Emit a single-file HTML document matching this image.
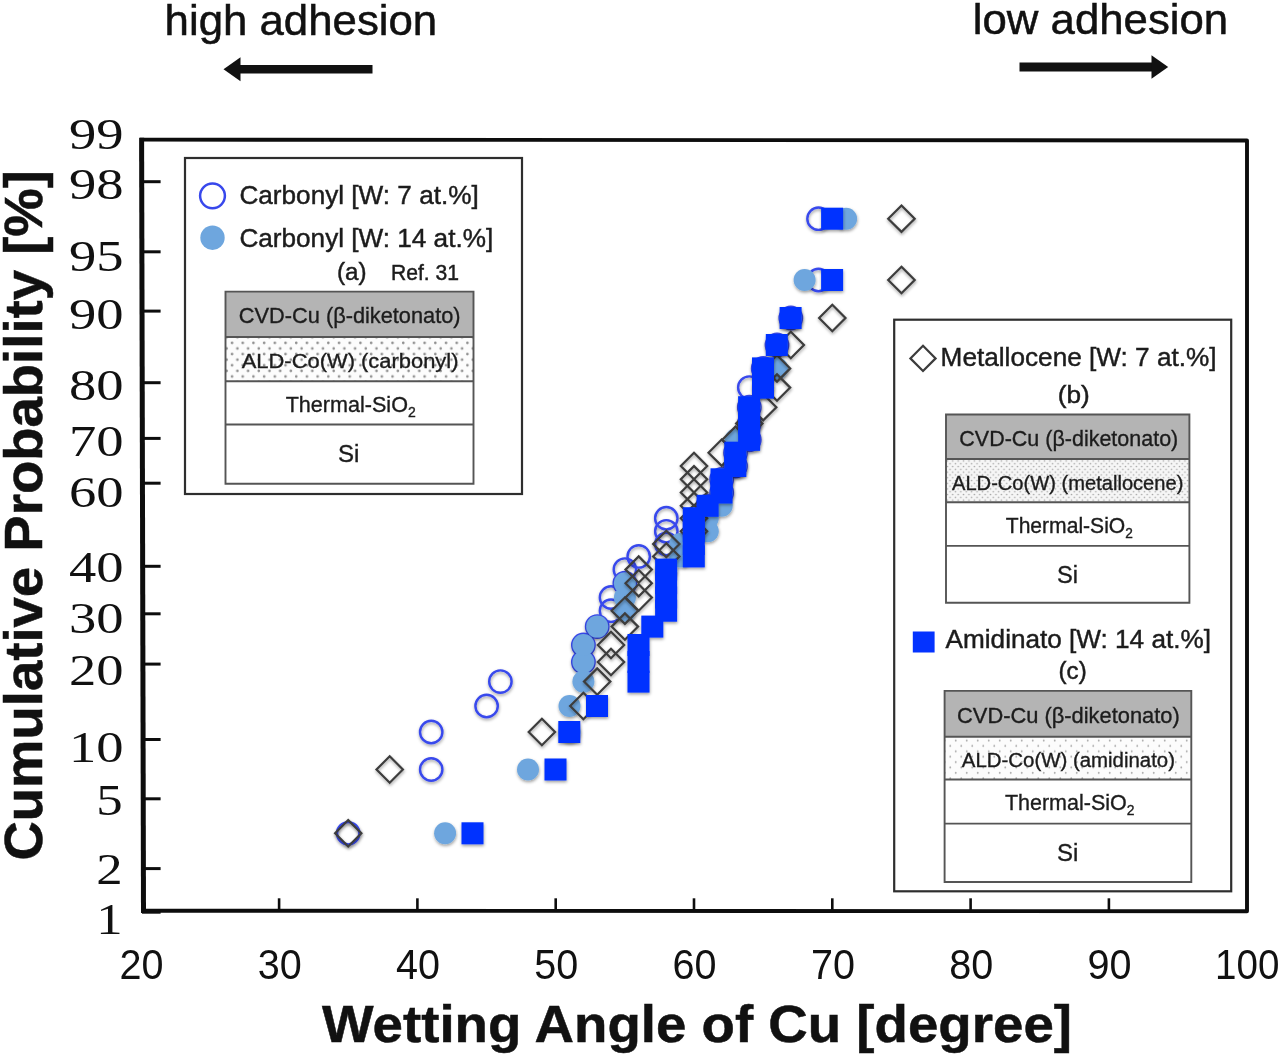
<!DOCTYPE html>
<html lang="en"><head><meta charset="utf-8"><title>Wetting angle of Cu - cumulative probability</title>
<style>
html,body{margin:0;padding:0;background:#fff}
body{width:1280px;height:1057px;overflow:hidden}
svg{display:block;filter:blur(0.7px)}
</style></head><body>
<svg width="1280" height="1057" viewBox="0 0 1280 1057">
<rect width="1280" height="1057" fill="#fff"/>
<defs>
<filter id="sh" x="-5%" y="-5%" width="110%" height="110%"><feDropShadow dx="0.4" dy="1.7" stdDeviation="1.4" flood-color="#000" flood-opacity="0.38"/></filter>
<pattern id="dotA" width="10.7" height="11.2" patternUnits="userSpaceOnUse" x="224" y="334.5"><rect width="10.7" height="11.2" fill="#fcfcfc"/><circle cx="2.7" cy="2.8" r="1.3" fill="#8f8f8f"/><circle cx="8.05" cy="8.4" r="1.3" fill="#8f8f8f"/></pattern>
<pattern id="dotB" width="5.4" height="5.6" patternUnits="userSpaceOnUse" x="946" y="459.5"><rect width="5.4" height="5.6" fill="#f6f6f6"/><circle cx="1.35" cy="1.4" r="0.8" fill="#a6a6a6"/><circle cx="4.05" cy="4.2" r="0.8" fill="#a6a6a6"/></pattern>
<pattern id="dotC" width="11" height="10.8" patternUnits="userSpaceOnUse" x="942" y="737.8"><rect width="11" height="10.8" fill="#fcfcfc"/><circle cx="2.75" cy="2.7" r="0.95" fill="#a8a8a8"/><circle cx="8.25" cy="8.1" r="0.95" fill="#a8a8a8"/></pattern>
</defs>
<g id="blurwrap">
<path d="M140 139.6L1247 140.5V911.2L142 910.7" fill="none" stroke="#0d0d0d" stroke-width="3.9" stroke-linejoin="round"/>
<path d="M141.6 137.7L143.5 912.9" stroke="#0d0d0d" stroke-width="5"/>
<path d="M142 181.7H160.6" stroke="#0d0d0d" stroke-width="3"/>
<path d="M142 251.8H160.6" stroke="#0d0d0d" stroke-width="3"/>
<path d="M142 311.1H160.6" stroke="#0d0d0d" stroke-width="3"/>
<path d="M142 382.7H160.6" stroke="#0d0d0d" stroke-width="3"/>
<path d="M142 438.4H160.6" stroke="#0d0d0d" stroke-width="3"/>
<path d="M142 483.2H160.6" stroke="#0d0d0d" stroke-width="3"/>
<path d="M142 566.3H160.6" stroke="#0d0d0d" stroke-width="3"/>
<path d="M142 613.8H160.6" stroke="#0d0d0d" stroke-width="3"/>
<path d="M142 664.1H160.6" stroke="#0d0d0d" stroke-width="3"/>
<path d="M142 739.5H160.6" stroke="#0d0d0d" stroke-width="3"/>
<path d="M142 798.8H160.6" stroke="#0d0d0d" stroke-width="3"/>
<path d="M142 868.6H160.6" stroke="#0d0d0d" stroke-width="3"/>
<path d="M142 911.4H160.6" stroke="#0d0d0d" stroke-width="4.6"/>
<path d="M279.1 910V898.3" stroke="#0d0d0d" stroke-width="2.6"/>
<path d="M417.4 910V898.3" stroke="#0d0d0d" stroke-width="2.6"/>
<path d="M555.7 910V898.3" stroke="#0d0d0d" stroke-width="2.6"/>
<path d="M694.0 910V898.3" stroke="#0d0d0d" stroke-width="2.6"/>
<path d="M832.3 910V898.3" stroke="#0d0d0d" stroke-width="2.6"/>
<path d="M970.6 910V898.3" stroke="#0d0d0d" stroke-width="2.6"/>
<path d="M1108.9 910V898.3" stroke="#0d0d0d" stroke-width="2.6"/>
<text x="69.0" y="148.7" font-family="Liberation Serif,serif" font-size="44.3" textLength="54.6" lengthAdjust="spacingAndGlyphs" fill="#111">99</text>
<text x="69.0" y="198.9" font-family="Liberation Serif,serif" font-size="44.3" textLength="54.6" lengthAdjust="spacingAndGlyphs" fill="#111">98</text>
<text x="69.0" y="270.9" font-family="Liberation Serif,serif" font-size="44.3" textLength="54.6" lengthAdjust="spacingAndGlyphs" fill="#111">95</text>
<text x="69.0" y="328.7" font-family="Liberation Serif,serif" font-size="44.3" textLength="54.6" lengthAdjust="spacingAndGlyphs" fill="#111">90</text>
<text x="69.0" y="400.2" font-family="Liberation Serif,serif" font-size="44.3" textLength="54.6" lengthAdjust="spacingAndGlyphs" fill="#111">80</text>
<text x="69.0" y="456.4" font-family="Liberation Serif,serif" font-size="44.3" textLength="54.6" lengthAdjust="spacingAndGlyphs" fill="#111">70</text>
<text x="69.0" y="506.9" font-family="Liberation Serif,serif" font-size="44.3" textLength="54.6" lengthAdjust="spacingAndGlyphs" fill="#111">60</text>
<text x="69.0" y="582.2" font-family="Liberation Serif,serif" font-size="44.3" textLength="54.6" lengthAdjust="spacingAndGlyphs" fill="#111">40</text>
<text x="69.0" y="632.7" font-family="Liberation Serif,serif" font-size="44.3" textLength="54.6" lengthAdjust="spacingAndGlyphs" fill="#111">30</text>
<text x="69.0" y="684.6" font-family="Liberation Serif,serif" font-size="44.3" textLength="54.6" lengthAdjust="spacingAndGlyphs" fill="#111">20</text>
<text x="69.0" y="762.0" font-family="Liberation Serif,serif" font-size="44.3" textLength="54.6" lengthAdjust="spacingAndGlyphs" fill="#111">10</text>
<text x="96.2" y="814.7" font-family="Liberation Serif,serif" font-size="44.3" textLength="26.4" lengthAdjust="spacingAndGlyphs" fill="#111">5</text>
<text x="96.2" y="883.9" font-family="Liberation Serif,serif" font-size="44.3" textLength="26.4" lengthAdjust="spacingAndGlyphs" fill="#111">2</text>
<text x="96.2" y="934.3" font-family="Liberation Serif,serif" font-size="44.3" textLength="26.4" lengthAdjust="spacingAndGlyphs" fill="#111">1</text>
<text x="119.4" y="979.3" font-family="Liberation Sans,sans-serif" font-size="43" textLength="44.0" lengthAdjust="spacingAndGlyphs" fill="#111">20</text>
<text x="257.7" y="979.3" font-family="Liberation Sans,sans-serif" font-size="43" textLength="44.0" lengthAdjust="spacingAndGlyphs" fill="#111">30</text>
<text x="396.0" y="979.3" font-family="Liberation Sans,sans-serif" font-size="43" textLength="44.0" lengthAdjust="spacingAndGlyphs" fill="#111">40</text>
<text x="534.3" y="979.3" font-family="Liberation Sans,sans-serif" font-size="43" textLength="44.0" lengthAdjust="spacingAndGlyphs" fill="#111">50</text>
<text x="672.6" y="979.3" font-family="Liberation Sans,sans-serif" font-size="43" textLength="44.0" lengthAdjust="spacingAndGlyphs" fill="#111">60</text>
<text x="810.9" y="979.3" font-family="Liberation Sans,sans-serif" font-size="43" textLength="44.0" lengthAdjust="spacingAndGlyphs" fill="#111">70</text>
<text x="949.2" y="979.3" font-family="Liberation Sans,sans-serif" font-size="43" textLength="44.0" lengthAdjust="spacingAndGlyphs" fill="#111">80</text>
<text x="1087.5" y="979.3" font-family="Liberation Sans,sans-serif" font-size="43" textLength="44.0" lengthAdjust="spacingAndGlyphs" fill="#111">90</text>
<text x="1215.1" y="979.3" font-family="Liberation Sans,sans-serif" font-size="43" textLength="64.4" lengthAdjust="spacingAndGlyphs" fill="#111">100</text>
<rect x="185" y="158" width="337" height="336" fill="#fff" stroke="#2e2e2e" stroke-width="2.2"/>
<circle cx="212.5" cy="195.8" r="12.4" fill="none" stroke="#3848ec" stroke-width="2.5"/>
<circle cx="212.5" cy="237.7" r="12.2" fill="#6ea6de"/>
<text x="239.4" y="204.4" font-size="25.8" textLength="239.4" font-family="Liberation Sans,sans-serif" fill="#1c1c1c" stroke="#1c1c1c" stroke-width="0.45" lengthAdjust="spacingAndGlyphs">Carbonyl [W: 7 at.%]</text>
<text x="239.4" y="247.2" font-size="25.8" textLength="253.8" font-family="Liberation Sans,sans-serif" fill="#1c1c1c" stroke="#1c1c1c" stroke-width="0.45" lengthAdjust="spacingAndGlyphs">Carbonyl [W: 14 at.%]</text>
<text x="337" y="280.2" font-size="23.5" textLength="29.6" font-family="Liberation Sans,sans-serif" fill="#1c1c1c" stroke="#1c1c1c" stroke-width="0.45" lengthAdjust="spacingAndGlyphs">(a)</text>
<text x="391" y="280" font-size="21.4" textLength="68" font-family="Liberation Sans,sans-serif" fill="#1c1c1c" stroke="#1c1c1c" stroke-width="0.45" lengthAdjust="spacingAndGlyphs">Ref. 31</text>
<rect x="225.5" y="291.6" width="248.0" height="45.4" fill="#b4b4b4"/>
<rect x="225.5" y="337.0" width="248.0" height="44.2" fill="url(#dotA)"/>
<path d="M225.5 291.6H473.5V483.8H225.5ZM225.5 337.0H473.5M225.5 381.2H473.5M225.5 424.5H473.5" fill="none" stroke="#555" stroke-width="1.9"/>
<text x="349.7" y="323.2" font-size="22.4" textLength="221.7" font-family="Liberation Sans,sans-serif" fill="#1c1c1c" stroke="#1c1c1c" stroke-width="0.35" text-anchor="middle" lengthAdjust="spacingAndGlyphs">CVD-Cu (β-diketonato)</text>
<text x="350.1" y="367.6" font-size="21.0" textLength="216.8" font-family="Liberation Sans,sans-serif" fill="#1c1c1c" stroke="#1c1c1c" stroke-width="0.35" text-anchor="middle" lengthAdjust="spacingAndGlyphs">ALD-Co(W) (carbonyl)</text>
<text x="350.7" y="411.5" font-size="21.6" textLength="130.1" font-family="Liberation Sans,sans-serif" fill="#1c1c1c" stroke="#1c1c1c" stroke-width="0.35" text-anchor="middle" lengthAdjust="spacingAndGlyphs">Thermal-SiO<tspan font-size="14" dy="5">2</tspan></text>
<text x="348.7" y="462.0" font-size="23" textLength="21.4" font-family="Liberation Sans,sans-serif" fill="#1c1c1c" stroke="#1c1c1c" stroke-width="0.35" text-anchor="middle" lengthAdjust="spacingAndGlyphs">Si</text>
<rect x="894.2" y="319.7" width="337" height="571.6" fill="#fff" stroke="#2e2e2e" stroke-width="2.2"/>
<path d="M923 345.8L935.6 358.4L923 371.0L910.4 358.4Z" fill="none" stroke="#3c3c3c" stroke-width="2.2"/>
<text x="940.6" y="366" font-size="25.8" textLength="276" font-family="Liberation Sans,sans-serif" fill="#1c1c1c" stroke="#1c1c1c" stroke-width="0.45" lengthAdjust="spacingAndGlyphs">Metallocene [W: 7 at.%]</text>
<text x="1057.8" y="403" font-size="23.5" textLength="32" font-family="Liberation Sans,sans-serif" fill="#1c1c1c" stroke="#1c1c1c" stroke-width="0.45" lengthAdjust="spacingAndGlyphs">(b)</text>
<rect x="946.0" y="414.5" width="243.4" height="44.5" fill="#b4b4b4"/>
<rect x="946.0" y="459.0" width="243.4" height="43.3" fill="url(#dotB)"/>
<path d="M946.0 414.5H1189.4V602.8H946.0ZM946.0 459.0H1189.4M946.0 502.3H1189.4M946.0 545.9H1189.4" fill="none" stroke="#555" stroke-width="1.9"/>
<text x="1068.8" y="446.1" font-size="22.4" textLength="218.9" font-family="Liberation Sans,sans-serif" fill="#1c1c1c" stroke="#1c1c1c" stroke-width="0.35" text-anchor="middle" lengthAdjust="spacingAndGlyphs">CVD-Cu (β-diketonato)</text>
<text x="1067.7" y="489.6" font-size="19.8" textLength="231.4" font-family="Liberation Sans,sans-serif" fill="#1c1c1c" stroke="#1c1c1c" stroke-width="0.35" text-anchor="middle" lengthAdjust="spacingAndGlyphs">ALD-Co(W) (metallocene)</text>
<text x="1069.3" y="532.6" font-size="21.6" textLength="127.1" font-family="Liberation Sans,sans-serif" fill="#1c1c1c" stroke="#1c1c1c" stroke-width="0.35" text-anchor="middle" lengthAdjust="spacingAndGlyphs">Thermal-SiO<tspan font-size="14" dy="5">2</tspan></text>
<text x="1067.5" y="583.4" font-size="23" textLength="21.0" font-family="Liberation Sans,sans-serif" fill="#1c1c1c" stroke="#1c1c1c" stroke-width="0.35" text-anchor="middle" lengthAdjust="spacingAndGlyphs">Si</text>
<rect x="912.8" y="631.5" width="21.8" height="21" fill="#0433ff"/>
<text x="945.6" y="647.8" font-size="25.8" textLength="265.4" font-family="Liberation Sans,sans-serif" fill="#1c1c1c" stroke="#1c1c1c" stroke-width="0.45" lengthAdjust="spacingAndGlyphs">Amidinato [W: 14 at.%]</text>
<text x="1058.6" y="679" font-size="23.5" textLength="28.1" font-family="Liberation Sans,sans-serif" fill="#1c1c1c" stroke="#1c1c1c" stroke-width="0.45" lengthAdjust="spacingAndGlyphs">(c)</text>
<rect x="944.6" y="690.9" width="246.7" height="45.8" fill="#b4b4b4"/>
<rect x="944.6" y="736.7" width="246.7" height="42.8" fill="url(#dotC)"/>
<path d="M944.6 690.9H1191.3V882.0H944.6ZM944.6 736.7H1191.3M944.6 779.5H1191.3M944.6 823.6H1191.3" fill="none" stroke="#555" stroke-width="1.9"/>
<text x="1068.4" y="722.5" font-size="22.4" textLength="222.7" font-family="Liberation Sans,sans-serif" fill="#1c1c1c" stroke="#1c1c1c" stroke-width="0.35" text-anchor="middle" lengthAdjust="spacingAndGlyphs">CVD-Cu (β-diketonato)</text>
<text x="1068.4" y="767.3" font-size="20.0" textLength="213.2" font-family="Liberation Sans,sans-serif" fill="#1c1c1c" stroke="#1c1c1c" stroke-width="0.35" text-anchor="middle" lengthAdjust="spacingAndGlyphs">ALD-Co(W) (amidinato)</text>
<text x="1069.7" y="809.8" font-size="21.6" textLength="129.6" font-family="Liberation Sans,sans-serif" fill="#1c1c1c" stroke="#1c1c1c" stroke-width="0.35" text-anchor="middle" lengthAdjust="spacingAndGlyphs">Thermal-SiO<tspan font-size="14" dy="5">2</tspan></text>
<text x="1067.7" y="861.1" font-size="23" textLength="21.3" font-family="Liberation Sans,sans-serif" fill="#1c1c1c" stroke="#1c1c1c" stroke-width="0.35" text-anchor="middle" lengthAdjust="spacingAndGlyphs">Si</text>
<g id="open" fill="none" stroke="#3848ec" stroke-width="2.4" filter="url(#sh)">
<circle cx="348.2" cy="833.3" r="11.2"/>
<circle cx="431.2" cy="769.5" r="11.2"/>
<circle cx="431.2" cy="732.0" r="11.2"/>
<circle cx="486.6" cy="706.0" r="11.2"/>
<circle cx="500.4" cy="681.6" r="11.2"/>
<circle cx="583.4" cy="662.0" r="11.2"/>
<circle cx="583.4" cy="645.0" r="11.2"/>
<circle cx="597.2" cy="626.6" r="11.2"/>
<circle cx="611.0" cy="610.7" r="11.2"/>
<circle cx="611.0" cy="597.5" r="11.2"/>
<circle cx="624.9" cy="583.2" r="11.2"/>
<circle cx="624.9" cy="569.6" r="11.2"/>
<circle cx="638.7" cy="556.4" r="11.2"/>
<circle cx="666.3" cy="544.0" r="11.2"/>
<circle cx="666.3" cy="531.3" r="11.2"/>
<circle cx="666.3" cy="518.2" r="11.2"/>
<circle cx="707.8" cy="505.8" r="11.2"/>
<circle cx="721.7" cy="492.5" r="11.2"/>
<circle cx="721.7" cy="479.3" r="11.2"/>
<circle cx="735.5" cy="466.0" r="11.2"/>
<circle cx="735.5" cy="452.7" r="11.2"/>
<circle cx="749.3" cy="439.8" r="11.2"/>
<circle cx="749.3" cy="423.6" r="11.2"/>
<circle cx="749.3" cy="407.2" r="11.2"/>
<circle cx="749.3" cy="387.6" r="11.2"/>
<circle cx="763.2" cy="368.4" r="11.2"/>
<circle cx="777.0" cy="345.0" r="11.2"/>
<circle cx="790.8" cy="318.0" r="11.2"/>
<circle cx="818.5" cy="280.0" r="11.2"/>
<circle cx="818.5" cy="218.7" r="11.2"/>
</g>
<g id="lb" fill="#6ea6de" filter="url(#sh)">
<circle cx="445.1" cy="833.3" r="11"/>
<circle cx="528.0" cy="769.5" r="11"/>
<circle cx="569.5" cy="732.0" r="11"/>
<circle cx="569.5" cy="706.0" r="11"/>
<circle cx="583.4" cy="681.6" r="11"/>
<circle cx="583.4" cy="662.0" r="11"/>
<circle cx="583.4" cy="645.0" r="11"/>
<circle cx="597.2" cy="626.6" r="11"/>
<circle cx="624.9" cy="610.7" r="11"/>
<circle cx="624.9" cy="597.5" r="11"/>
<circle cx="624.9" cy="583.2" r="11"/>
<circle cx="666.3" cy="569.6" r="11"/>
<circle cx="680.2" cy="556.4" r="11"/>
<circle cx="680.2" cy="544.0" r="11"/>
<circle cx="707.8" cy="531.3" r="11"/>
<circle cx="707.8" cy="518.2" r="11"/>
<circle cx="721.7" cy="505.8" r="11"/>
<circle cx="721.7" cy="492.5" r="11"/>
<circle cx="721.7" cy="479.3" r="11"/>
<circle cx="735.5" cy="466.0" r="11"/>
<circle cx="735.5" cy="452.7" r="11"/>
<circle cx="735.5" cy="439.8" r="11"/>
<circle cx="749.3" cy="423.6" r="11"/>
<circle cx="749.3" cy="407.2" r="11"/>
<circle cx="763.2" cy="387.6" r="11"/>
<circle cx="777.0" cy="368.4" r="11"/>
<circle cx="777.0" cy="345.0" r="11"/>
<circle cx="790.8" cy="318.0" r="11"/>
<circle cx="804.6" cy="280.0" r="11"/>
<circle cx="846.1" cy="218.7" r="11"/>
</g>
<g id="dia" fill="none" stroke="#3c3c3c" stroke-width="2.2" stroke-linejoin="miter" filter="url(#sh)">
<path d="M348.2 820.1L361.4 833.3L348.2 846.5L335.1 833.3Z"/>
<path d="M389.7 756.3L402.9 769.5L389.7 782.7L376.5 769.5Z"/>
<path d="M541.9 718.8L555.1 732.0L541.9 745.2L528.7 732.0Z"/>
<path d="M583.4 692.8L596.6 706.0L583.4 719.2L570.2 706.0Z"/>
<path d="M597.2 668.4L610.4 681.6L597.2 694.8L584.0 681.6Z"/>
<path d="M611.0 648.8L624.2 662.0L611.0 675.2L597.8 662.0Z"/>
<path d="M611.0 631.8L624.2 645.0L611.0 658.2L597.8 645.0Z"/>
<path d="M624.9 613.4L638.1 626.6L624.9 639.8L611.6 626.6Z"/>
<path d="M624.9 597.5L638.1 610.7L624.9 623.9L611.6 610.7Z"/>
<path d="M638.7 584.3L651.9 597.5L638.7 610.7L625.5 597.5Z"/>
<path d="M638.7 570.0L651.9 583.2L638.7 596.4L625.5 583.2Z"/>
<path d="M638.7 556.4L651.9 569.6L638.7 582.8L625.5 569.6Z"/>
<path d="M666.3 543.2L679.5 556.4L666.3 569.6L653.1 556.4Z"/>
<path d="M666.3 530.8L679.5 544.0L666.3 557.2L653.1 544.0Z"/>
<path d="M694.0 518.1L707.2 531.3L694.0 544.5L680.8 531.3Z"/>
<path d="M694.0 505.0L707.2 518.2L694.0 531.4L680.8 518.2Z"/>
<path d="M694.0 492.6L707.2 505.8L694.0 519.0L680.8 505.8Z"/>
<path d="M694.0 479.3L707.2 492.5L694.0 505.7L680.8 492.5Z"/>
<path d="M694.0 466.1L707.2 479.3L694.0 492.5L680.8 479.3Z"/>
<path d="M694.0 452.8L707.2 466.0L694.0 479.2L680.8 466.0Z"/>
<path d="M721.7 439.5L734.9 452.7L721.7 465.9L708.5 452.7Z"/>
<path d="M735.5 426.6L748.7 439.8L735.5 453.0L722.3 439.8Z"/>
<path d="M749.3 410.4L762.5 423.6L749.3 436.8L736.1 423.6Z"/>
<path d="M763.2 394.0L776.4 407.2L763.2 420.4L750.0 407.2Z"/>
<path d="M777.0 374.4L790.2 387.6L777.0 400.8L763.8 387.6Z"/>
<path d="M777.0 355.2L790.2 368.4L777.0 381.6L763.8 368.4Z"/>
<path d="M790.8 331.8L804.0 345.0L790.8 358.2L777.6 345.0Z"/>
<path d="M832.3 304.8L845.5 318.0L832.3 331.2L819.1 318.0Z"/>
<path d="M901.5 266.8L914.7 280.0L901.5 293.2L888.2 280.0Z"/>
<path d="M901.5 205.5L914.7 218.7L901.5 231.9L888.2 218.7Z"/>
</g>
<g id="sq" fill="#0433ff" filter="url(#sh)">
<rect x="461.5" y="822.3" width="22" height="22"/>
<rect x="544.5" y="758.5" width="22" height="22"/>
<rect x="558.3" y="721.0" width="22" height="22"/>
<rect x="586.0" y="695.0" width="22" height="22"/>
<rect x="627.5" y="670.6" width="22" height="22"/>
<rect x="627.5" y="651.0" width="22" height="22"/>
<rect x="627.5" y="634.0" width="22" height="22"/>
<rect x="641.3" y="615.6" width="22" height="22"/>
<rect x="655.1" y="599.7" width="22" height="22"/>
<rect x="655.1" y="586.5" width="22" height="22"/>
<rect x="655.1" y="572.2" width="22" height="22"/>
<rect x="655.1" y="558.6" width="22" height="22"/>
<rect x="682.8" y="545.4" width="22" height="22"/>
<rect x="682.8" y="533.0" width="22" height="22"/>
<rect x="682.8" y="520.3" width="22" height="22"/>
<rect x="682.8" y="507.2" width="22" height="22"/>
<rect x="696.6" y="494.8" width="22" height="22"/>
<rect x="710.5" y="481.5" width="22" height="22"/>
<rect x="710.5" y="468.3" width="22" height="22"/>
<rect x="724.3" y="455.0" width="22" height="22"/>
<rect x="724.3" y="441.7" width="22" height="22"/>
<rect x="738.1" y="428.8" width="22" height="22"/>
<rect x="738.1" y="412.6" width="22" height="22"/>
<rect x="738.1" y="396.2" width="22" height="22"/>
<rect x="752.0" y="376.6" width="22" height="22"/>
<rect x="752.0" y="357.4" width="22" height="22"/>
<rect x="765.8" y="334.0" width="22" height="22"/>
<rect x="779.6" y="307.0" width="22" height="22"/>
<rect x="821.1" y="269.0" width="22" height="22"/>
<rect x="821.1" y="207.7" width="22" height="22"/>
</g>
<text x="164.6" y="34.6" font-family="Liberation Sans,sans-serif" font-size="41.6" textLength="272.6" lengthAdjust="spacingAndGlyphs" fill="#111" stroke="#111" stroke-width="0.5">high adhesion</text>
<text x="972.8" y="34.1" font-family="Liberation Sans,sans-serif" font-size="41.6" textLength="255.4" lengthAdjust="spacingAndGlyphs" fill="#111" stroke="#111" stroke-width="0.5">low adhesion</text>
<path d="M372.5 69.3H238" stroke="#111" stroke-width="8.4"/><path d="M223.5 69.3L240.5 57.3V81.3Z" fill="#111"/>
<path d="M1019.5 67H1154" stroke="#111" stroke-width="8.8"/><path d="M1168.2 67L1151.5 55.3V78.8Z" fill="#111"/>
<text x="322" y="1042.3" font-family="Liberation Sans,sans-serif" font-weight="bold" font-size="52" textLength="750" stroke="#111" stroke-width="0.5" lengthAdjust="spacingAndGlyphs" fill="#111">Wetting Angle of Cu [degree]</text>
<text transform="translate(42 860.6) rotate(-90)" font-family="Liberation Sans,sans-serif" font-weight="bold" font-size="53" textLength="690.5" stroke="#111" stroke-width="0.5" lengthAdjust="spacingAndGlyphs" fill="#111">Cumulative Probability [%]</text>
</g>
</svg>
</body></html>
